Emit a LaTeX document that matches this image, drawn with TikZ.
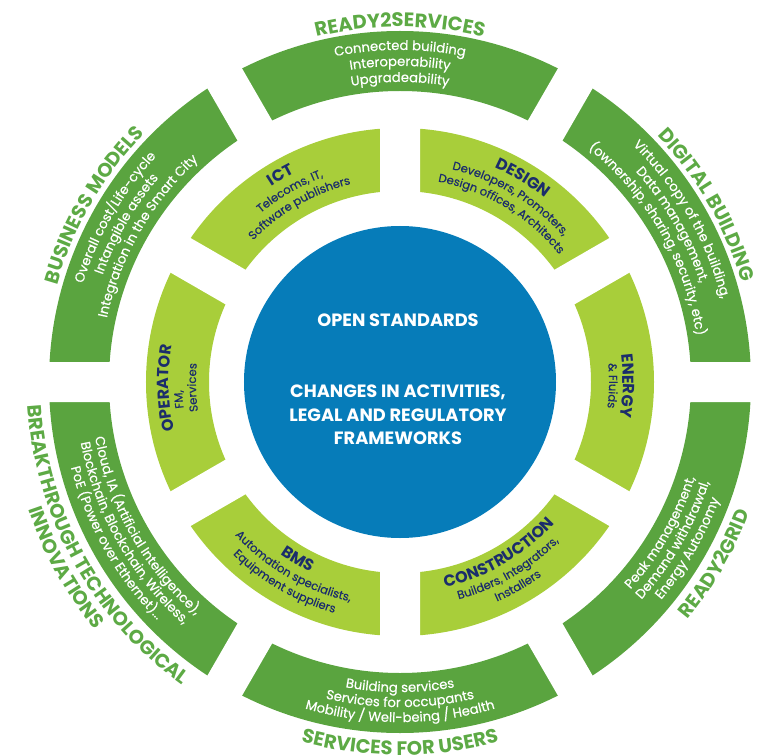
\documentclass[tikz,border=0pt]{standalone}
\usepackage{fontspec}
\setmainfont{Poppins}
\newfontfamily\pmed{Poppins}[FakeBold=0.45]
\usetikzlibrary{decorations.text}
\definecolor{dkgreen}{HTML}{5AA43F}
\definecolor{ltgreen}{HTML}{A8CE3A}
\definecolor{cblue}{HTML}{067CB9}
\definecolor{navy}{HTML}{1B2D6B}
\definecolor{lblgreen}{HTML}{5DAA45}
\newcommand\cwtext[4]{\path[decorate,decoration={text along path,text align=center,text={|#3|#4}}] (#1+70:#2) arc[start angle=#1+70,end angle=#1-70,radius=#2];}
\newcommand\ccwtext[4]{\path[decorate,decoration={text along path,text align=center,text={|#3|#4}}] (#1-70:#2) arc[start angle=#1-70,end angle=#1+70,radius=#2];}
\newcommand\otitle{\color{lblgreen}\bfseries\fontsize{19.5}{22}\selectfont}
\newcommand\obody{\color{white}\pmed\fontsize{13.2}{15}\selectfont}
\newcommand\ititle{\color{navy}\bfseries\fontsize{16}{18}\selectfont}
\newcommand\ibody{\color{navy}\pmed\fontsize{11.6}{14}\selectfont}
\begin{document}
\begin{tikzpicture}[x=1pt,y=1pt,
  ctext/.style={text=white,font=\bfseries\fontsize{17.8}{23.5}\selectfont,align=center,inner sep=0pt}]
\useasboundingbox (-400,-373) rectangle (360,382);
% rings
\fill[dkgreen,even odd rule] (0,0) circle[radius=351] (0,0) circle[radius=291];
\fill[ltgreen,even odd rule] (0,0) circle[radius=254] (0,0) circle[radius=191];
\foreach \a in {0,60,120} {\fill[white,rotate=\a] (265,-20) rectangle (372,20) (-372,-20) rectangle (-265,20);}
\foreach \a in {30,90,150} {\fill[white,rotate=\a] (165,-20) rectangle (262,20) (-262,-20) rectangle (-165,20);}
\fill[cblue] (0,0) circle[radius=156];
% centre
\node[ctext] (os) at (-2,62) {OPEN STANDARDS};
\node[ctext] (ch) at (-2,-33) {CHANGES IN ACTIVITIES,\\LEGAL AND REGULATORY\\FRAMEWORKS};
% outer: READY2SERVICES
\cwtext{90}{355}{\otitle}{READY2SERVICES}
\cwtext{90}{332}{\obody}{Connected building}
\cwtext{90}{316}{\obody}{Interoperability}
\cwtext{90}{300}{\obody}{Upgradeability}
% DIGITAL BUILDING
\cwtext{30}{356}{\otitle}{DIGITAL BUILDING}
\cwtext{30}{332}{\obody}{Virtual copy of the building,}
\cwtext{30}{316}{\obody}{Data management,}
\cwtext{30}{300}{\obody}{(ownership, sharing, security, etc)}
% BUSINESS MODELS
\cwtext{150}{356}{\otitle}{BUSINESS MODELS}
\cwtext{150}{332}{\obody}{Overall cost/Life-cycle}
\cwtext{150}{316}{\obody}{Intangible assets}
\cwtext{150}{300}{\obody}{Integration in the Smart City}
% READY2GRID
\ccwtext{-30}{310}{\obody}{Peak management,}
\ccwtext{-30}{325}{\obody}{Demand withdrawal,}
\ccwtext{-30}{340}{\obody}{Energy Autonomy}
\ccwtext{-30}{373}{\otitle}{READY2GRID}
% SERVICES FOR USERS
\ccwtext{270}{310}{\obody}{Building services}
\ccwtext{270}{325}{\obody}{Services for occupants}
\ccwtext{270}{340}{\obody}{Mobility / Well-being / Health}
\ccwtext{270}{373}{\otitle}{SERVICES FOR USERS}
% BREAKTHROUGH
\ccwtext{209.5}{310}{\obody}{Cloud, IA (Artificial Intelligence),}
\ccwtext{209.5}{325}{\obody}{Blockchain, Blockchain, Wireless,}
\ccwtext{209.5}{340}{\obody}{PoE (Power over Ethernet)...}
\ccwtext{209}{373}{\otitle}{BREAKTHROUGH TECHNOLOGICAL}
\ccwtext{209}{393}{\otitle}{INNOVATIONS}
% inner: ICT
\cwtext{120}{234}{\ititle}{ICT}
\cwtext{120}{219}{\ibody}{Telecoms, IT,}
\cwtext{120}{204}{\ibody}{Software publishers}
% DESIGN
\cwtext{59}{234}{\ititle}{DESIGN}
\cwtext{59}{219}{\ibody}{Developers, Promoters,}
\cwtext{59}{204}{\ibody}{Design offices, Architects}
% ENERGY
\cwtext{-1}{223}{\ititle}{ENERGY}
\cwtext{-1}{209}{\ibody}{{\&} Fluids}
% CONSTRUCTION
\ccwtext{300}{210}{\ititle}{CONSTRUCTION}
\ccwtext{300}{225}{\ibody}{Builders, Integrators,}
\ccwtext{300}{240}{\ibody}{Installers}
% BMS
\ccwtext{240}{210}{\ititle}{BMS}
\ccwtext{240}{225}{\ibody}{Automation specialists,}
\ccwtext{240}{240}{\ibody}{Equipment suppliers}
% OPERATOR
\cwtext{181.5}{231}{\ititle}{OPERATOR}
\cwtext{184.5}{218}{\ibody}{FM,}
\cwtext{181.5}{204}{\ibody}{Services}
\end{tikzpicture}
\end{document}
